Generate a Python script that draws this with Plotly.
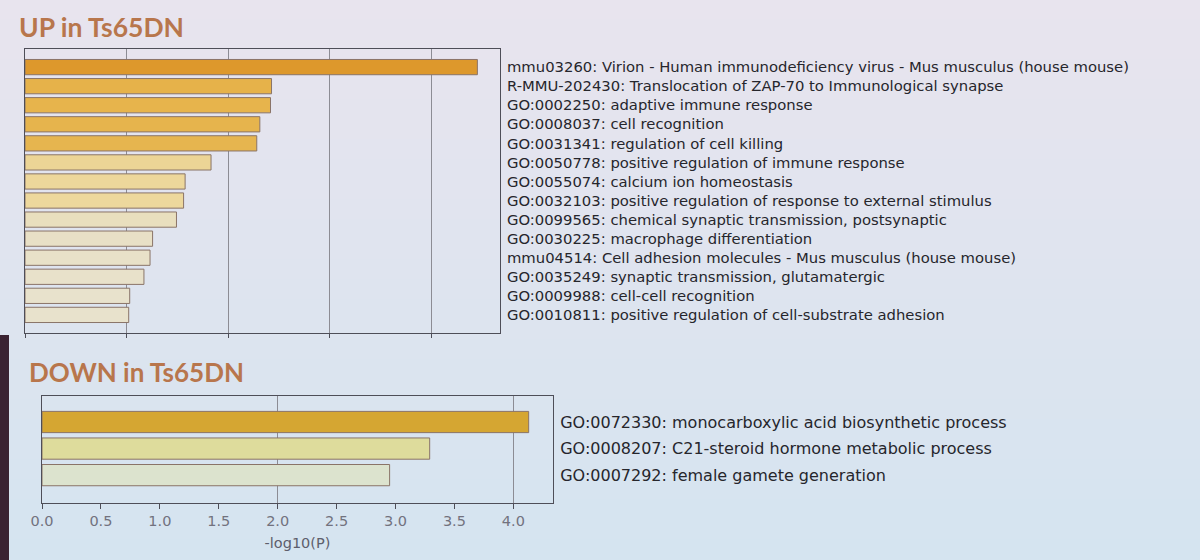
import plotly.graph_objects as go

# ---------------- data ----------------
up_terms = [
    "mmu03260: Virion - Human immunodeficiency virus - Mus musculus (house mouse)",
    "R-MMU-202430: Translocation of ZAP-70 to Immunological synapse",
    "GO:0002250: adaptive immune response",
    "GO:0008037: cell recognition",
    "GO:0031341: regulation of cell killing",
    "GO:0050778: positive regulation of immune response",
    "GO:0055074: calcium ion homeostasis",
    "GO:0032103: positive regulation of response to external stimulus",
    "GO:0099565: chemical synaptic transmission, postsynaptic",
    "GO:0030225: macrophage differentiation",
    "mmu04514: Cell adhesion molecules - Mus musculus (house mouse)",
    "GO:0035249: synaptic transmission, glutamatergic",
    "GO:0009988: cell-cell recognition",
    "GO:0010811: positive regulation of cell-substrate adhesion",
]
up_values = [8.90, 4.85, 4.83, 4.62, 4.56, 3.66, 3.15, 3.12, 2.98, 2.51, 2.46, 2.34, 2.06, 2.04]

down_terms = [
    "GO:0072330: monocarboxylic acid biosynthetic process",
    "GO:0008207: C21-steroid hormone metabolic process",
    "GO:0007292: female gamete generation",
]
down_values = [4.13, 3.29, 2.95]

up_tick_values = [0, 2, 4, 6, 8]
down_tick_values = [0.0, 0.5, 1.0, 1.5, 2.0, 2.5, 3.0, 3.5, 4.0]
down_tick_labels = ["0.0", "0.5", "1.0", "1.5", "2.0", "2.5", "3.0", "3.5", "4.0"]
down_grid_values = [2, 4]
x_title = "-log10(P)"
up_title = "UP in Ts65DN"
down_title = "DOWN in Ts65DN"

# ---------------- styles ----------------
up_colors = ["#DD982C", "#E6B24A", "#E7B44C", "#E6B44D", "#E6B54F", "#ECD596",
             "#EDD79B", "#EDD89D", "#E9DFBE", "#E8E0C6", "#E8E1C8", "#E8E1CA",
             "#E8E2CC", "#E8E2CC"]
down_colors = ["#D5A632", "#DEDC9C", "#DCE3CE"]
edge = "#8A7468"
frame = "#4E4E58"
grid = "#8C8C94"

W, H = 1200, 560
def px_x(a, b):
    return [a / W, b / W]
def px_y(top, bottom):
    return [(H - bottom) / H, (H - top) / H]

fig = go.Figure()

fig.add_trace(go.Bar(
    x=up_values, y=up_terms, orientation="h",
    marker=dict(color=up_colors, line=dict(color=edge, width=1)),
    width=0.8, xaxis="x", yaxis="y", showlegend=False, hoverinfo="x+y"))

fig.add_trace(go.Bar(
    x=down_values, y=down_terms, orientation="h",
    marker=dict(color=down_colors, line=dict(color=edge, width=1)),
    width=0.8, xaxis="x2", yaxis="y2", showlegend=False, hoverinfo="x+y"))

# background gradient (photo of a slide)
top_rgb = (232, 228, 238)
bot_rgb = (213, 228, 240)
nb = 28
for i in range(nb):
    t = i / (nb - 1)
    c = tuple(int(round(top_rgb[k] + (bot_rgb[k] - top_rgb[k]) * t)) for k in range(3))
    fig.add_shape(type="rect", xref="paper", yref="paper",
                  x0=0, x1=1, y0=1 - (i + 1) / nb, y1=1 - i / nb + 0.002,
                  fillcolor="rgb(%d,%d,%d)" % c, line_width=0, layer="below")
# dark screen edge on the left
fig.add_shape(type="rect", xref="paper", yref="paper",
              x0=0, x1=9 / W, y0=0, y1=(H - 335) / H,
              fillcolor="#3A2232", line_width=0, layer="below")

up_max = max(up_values) * 1.05
down_max = max(down_values) * 1.05

tickfont = dict(family="DejaVu Sans", size=14.5, color="#72727E")

fig.update_layout(
    width=W, height=H,
    margin=dict(l=0, r=0, t=0, b=0, autoexpand=False),
    paper_bgcolor="#E0E5EE",
    plot_bgcolor="rgba(0,0,0,0)",
    bargap=0.2,
    xaxis=dict(domain=px_x(25, 500), range=[0, up_max], automargin=False,
               tickmode="array", tickvals=up_tick_values,
               showticklabels=False, ticks="outside", ticklen=4,
               tickcolor=frame, showgrid=True, gridcolor=grid, gridwidth=1,
               showline=True, linecolor=frame, linewidth=1, mirror=True,
               zeroline=False, anchor="y", fixedrange=True),
    yaxis=dict(domain=px_y(49, 333), anchor="x", side="right", automargin=False,
               categoryorder="array", categoryarray=up_terms,
               range=[len(up_terms) - 1 + 0.95, -0.95],
               tickfont=dict(family="DejaVu Sans", size=14.8, color="#26262C"),
               ticks="", showgrid=False, showline=True, linecolor=frame,
               linewidth=1, mirror=True, zeroline=False, ticklabelstandoff=3),
    xaxis2=dict(domain=px_x(42, 553), range=[0, down_max], automargin=False,
                tickmode="array", tickvals=down_tick_values, ticktext=down_tick_labels,
                tickfont=tickfont, ticks="outside", ticklen=5, tickcolor=frame,
                showgrid=False,
                minor=dict(tickmode="array", tickvals=down_grid_values, showgrid=True,
                           gridcolor=grid, gridwidth=1, ticks=""),
                showline=True, linecolor=frame, linewidth=1, mirror=True,
                zeroline=False, anchor="y2",
                title=dict(text=x_title, font=dict(family="DejaVu Sans", size=14.5, color="#5E5E6C"),
                           standoff=9)),
    yaxis2=dict(domain=px_y(396, 503), anchor="x2", side="right", automargin=False,
                categoryorder="array", categoryarray=down_terms,
                range=[len(down_terms) - 1 + 1.05, -0.98],
                tickfont=dict(family="DejaVu Sans", size=16, color="#26262C"),
                ticks="", showgrid=False, showline=True, linecolor=frame,
                linewidth=1, mirror=True, zeroline=False, ticklabelstandoff=3),
    annotations=[
        dict(text="<b>%s</b>" % up_title, xref="paper", yref="paper",
             x=17 / W, y=(H - 27) / H, xanchor="left", yanchor="middle",
             showarrow=False, font=dict(family="Lato", size=26.5, color="#B8764C")),
        dict(text="<b>%s</b>" % down_title, xref="paper", yref="paper",
             x=27 / W, y=(H - 372) / H, xanchor="left", yanchor="middle",
             showarrow=False, font=dict(family="Lato", size=26, color="#B8764C")),
    ],
)

fig.write_html("out.html", config={"displayModeBar": False},
               post_script="document.body.style.margin='0';")
